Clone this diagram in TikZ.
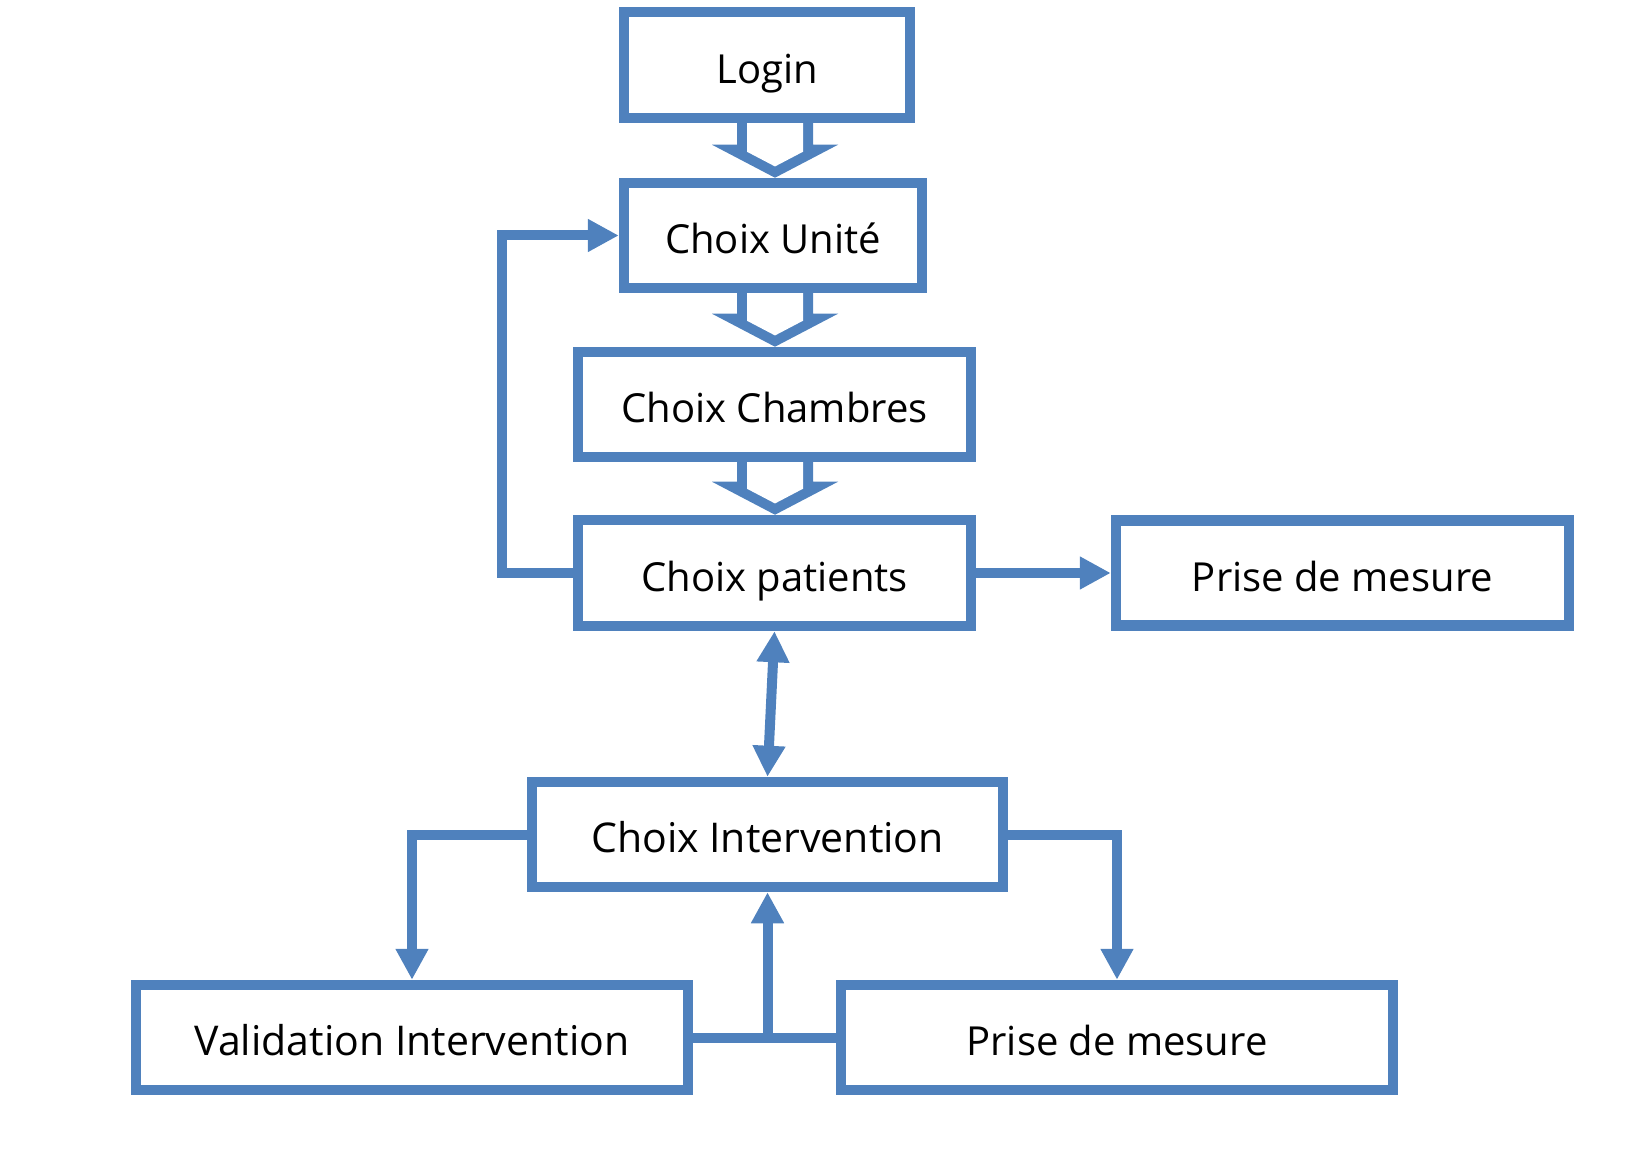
\documentclass[tikz,border=0pt]{standalone}
\usepackage{fontspec}
\setmainfont{Open Sans}
\usetikzlibrary{arrows.meta,calc,backgrounds}
\definecolor{boxblue}{HTML}{4F81BD}
\newcommand\hollowarrow[2]{%
  \coordinate (S) at (#1.south -| ax);
  \coordinate (T) at (#2.north -| ax);
  \fill[boxblue] ($(S)+(-38,0)$) -- ($(T)+(-38,-33)$) -- ($(T)+(-63,-33)$) -- (T)
     -- ($(T)+(63,-33)$) -- ($(T)+(38,-33)$) -- ($(S)+(38,0)$) -- cycle;
  \fill[white] ($(S)+(-28,-2)$) -- ($(T)+(-28,-26)$) -- ($(T)+(0,-11.3)$)
     -- ($(T)+(28,-26)$) -- ($(S)+(28,-2)$) -- cycle;}
\begin{document}
\begin{tikzpicture}[x=0.5pt,y=-0.5pt,
  box/.style={draw=boxblue,line width=5.25pt,fill=white,minimum height=52.5pt,
    inner sep=0pt,text height=18.3pt,text depth=0pt,font=\fontsize{20}{24}\selectfont},
  widebox/.style={box,font=\fontsize{20.5}{24}\selectfont},
  conn/.style={draw=boxblue,line width=5pt},
  arr/.style={-{Triangle[length=15.5pt,width=15.5pt]}},
  arrboth/.style={{Triangle[length=15.5pt,width=15.5pt]}-{Triangle[length=15.5pt,width=15.5pt]}},
]
\useasboundingbox (0,0) rectangle (1651,1155);
\coordinate (ax) at (775,0);
\coordinate (fb) at (502,0);

\node[box,minimum width=143pt,minimum height=53pt] (login) at (767,65) {Login};
\node[box,minimum width=149pt] (cu) at (773,235.5) {Choix Unité};
\node[box,minimum width=196.5pt] (cc) at (774.5,404.5) {Choix Chambres};
\node[box,minimum width=196.5pt,minimum height=53pt] (cp) at (774.5,573) {Choix patients};
\node[box,minimum width=226.5pt] (pm1) at (1342.5,573) {Prise de mesure};
\node[widebox,minimum width=235.5pt] (ci) at (767.5,834.5) {Choix Intervention};
\node[widebox,minimum width=276pt] (val) at (412,1037.5) {Validation Intervention};
\node[box,minimum width=276pt] (pm2) at (1117,1037.5) {Prise de mesure};

\begin{scope}[on background layer]
  \hollowarrow{login}{cu}
  \hollowarrow{cu}{cc}
  \hollowarrow{cc}{cp}
\end{scope}

\draw[conn,arr] (cp.west) -- (cp.west -| fb) |- (cu.west);
\draw[conn,arr] (cp.east) -- (pm1.west);
\draw[conn,arrboth] (cp.south) -- (ci.north);
\draw[conn,arr] (ci.west) -| (val.north);
\draw[conn,arr] (ci.east) -| (pm2.north);
\draw[conn] (val.east) -- (pm2.west);
\draw[conn,arr] (val.east -| ci.south) -- (ci.south);
\end{tikzpicture}
\end{document}
